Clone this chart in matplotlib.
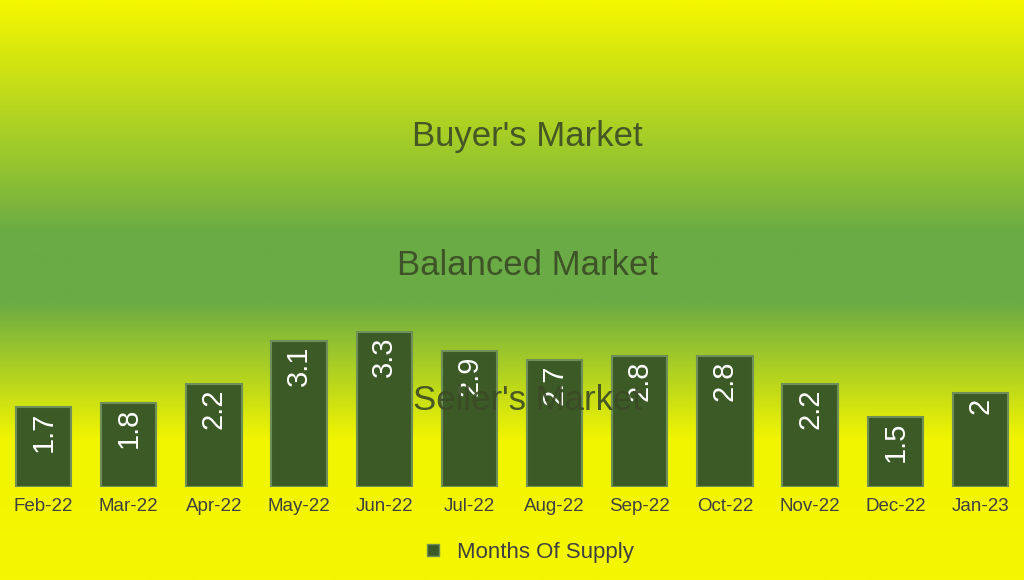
import matplotlib
matplotlib.use("Agg")
import matplotlib.pyplot as plt
import numpy as np
from matplotlib.colors import LinearSegmentedColormap

months = ["Feb-22","Mar-22","Apr-22","May-22","Jun-22","Jul-22","Aug-22","Sep-22","Oct-22","Nov-22","Dec-22","Jan-23"]
supply = [1.7,1.8,2.2,3.1,3.3,2.9,2.7,2.8,2.8,2.2,1.5,2]
zones = [("Buyer's Market",7.45),("Balanced Market",4.72),("Seller's Market",1.85)]

plt.rcParams['font.family'] = ['Liberation Sans', 'DejaVu Sans']
fig = plt.figure(figsize=(10.24,5.8), dpi=100)
bg = fig.add_axes([0,0,1,1]); bg.set_axis_off()
cmap = LinearSegmentedColormap.from_list("g", [(0,"#f5f700"),(0.3,"#8fc232"),(0.4,"#6aab45"),(0.52,"#6aab45"),(0.76,"#f2f500"),(1,"#f5f700")])
grad = np.linspace(0,1,300).reshape(-1,1)
bg.imshow(grad, aspect="auto", cmap=cmap, extent=[0,1,0,1])

ax = fig.add_axes([0.005,0.16,0.99,0.84])
ax.patch.set_alpha(0)
x = np.arange(len(months))
ax.bar(x, supply, width=0.65, color="#3b5a26", edgecolor="#6f8f58", linewidth=1.5)
for xi,v in zip(x,supply):
    ax.text(xi, v-0.1, f"{v:g}", rotation=90, ha="center", va="top", color="white", fontsize=21)
for t,y in zones:
    ax.text(5.68, y, t, ha="center", va="center", fontsize=25, color="#3a4a25", alpha=0.9)
ax.set_xlim(-0.45,11.45); ax.set_ylim(0,10.36)
ax.set_yticks([]); ax.set_xticks(x); ax.set_xticklabels(months, fontsize=13.5, color="#404040")
ax.tick_params(axis="x", length=0, pad=8)
for s in ax.spines.values(): s.set_visible(False)
h = plt.Line2D([],[],marker="s",linestyle="",color="#3b5a26",markeredgecolor="#6f8f58",markersize=9)
fig.legend([h],["Months Of Supply"],loc="center",bbox_to_anchor=(0.51,0.047),frameon=False,fontsize=16,labelcolor="#404040",handletextpad=0.1)
fig.savefig("out.png", dpi=100)
